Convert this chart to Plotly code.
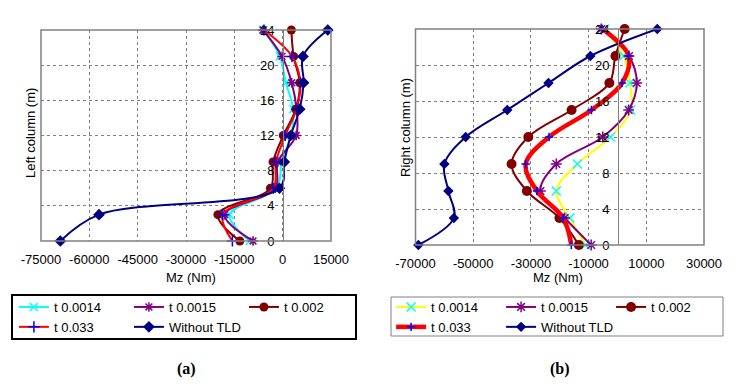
import plotly.graph_objects as go

# ---------------- data ----------------
heights = [0, 3, 6, 9, 12, 15, 18, 21, 24]
series_names = ["t 0.0014", "t 0.0015", "t 0.002", "t 0.033", "Without TLD"]

# (a) Left column
left_t00014 = [-10200, -16500, -1900, -300, 2600, 3300, 1000, -900, -6000]
left_t00015 = [-9200, -18000, -2300, -1500, 4200, 4300, 2800, -200, -6100]
left_t0002 = [-13300, -20100, -3800, -3000, 200, 4100, 5300, 3400, 2700]
left_t0033 = [-15600, -18600, -2900, -2100, 800, 4300, 5500, 2900, -5800]
left_without = [-69000, -57000, -1000, 500, 2500, 5300, 6500, 6300, 14000]

# (b) Right column
right_t00014 = [-11100, -16500, -21200, -13900, -2400, 4600, 4300, 2100, -4500]
right_t00015 = [-9100, -18300, -26700, -21200, -5100, 3900, 6700, 4000, -5600]
right_t0002 = [-13400, -20100, -31400, -36700, -30900, -15900, -2800, -700, 2500]
right_t0033 = [-16000, -18800, -27900, -31800, -23700, -9000, 1600, 3900, -5200]
right_without = [-69000, -56700, -58600, -60000, -52600, -38200, -23900, -9400, 13800]

left_xticks = [-75000, -60000, -45000, -30000, -15000, 0, 15000]
left_xlabels = ["-75000", "-60000", "-45000", "-30000", "-15000", "0", "15000"]
right_xticks = [-70000, -50000, -30000, -10000, 10000, 30000]
right_xlabels = ["-70000", "-50000", "-30000", "-10000", "10000", "30000"]
yticks = [0, 4, 8, 12, 16, 20, 24]
ylabels = ["0", "4", "8", "12", "16", "20", "24"]

# ---------------- geometry helpers ----------------
OFF = 8                      # default page margin of the html body
W, H = 734, 370
ML, MR = 6, 21
PW = W - ML - MR


def fx(px):
    return (px - OFF - ML) / PW


def fy(py):
    return 1 - (py - OFF) / H


FONT = "Liberation Sans, Arial, sans-serif"
GRAY = "#808080"

fig = go.Figure()

left_styles = [
    dict(line=dict(color="#00FFFF", width=2),
         marker=dict(symbol="x-thin", size=8, line=dict(color="#00FFFF", width=1.5))),
    dict(line=dict(color="#800080", width=2),
         marker=dict(symbol="asterisk", size=8, line=dict(color="#800080", width=1.5))),
    dict(line=dict(color="#800000", width=2),
         marker=dict(symbol="circle", size=9, color="#800000")),
    dict(line=dict(color="#FF0000", width=2),
         marker=dict(symbol="cross-thin", size=8, line=dict(color="#0000FF", width=1.5))),
    dict(line=dict(color="#000080", width=2),
         marker=dict(symbol="diamond", size=9, color="#000080")),
]
right_styles = [
    dict(line=dict(color="#FFFF00", width=2),
         marker=dict(symbol="x-thin", size=9, line=dict(color="#00FFFF", width=1.5))),
    dict(line=dict(color="#800080", width=2),
         marker=dict(symbol="asterisk", size=9, line=dict(color="#800080", width=1.5))),
    dict(line=dict(color="#800000", width=2),
         marker=dict(symbol="circle", size=10, color="#800000")),
    dict(line=dict(color="#FF0000", width=4.5),
         marker=dict(symbol="cross-thin", size=6, line=dict(color="#0000FF", width=1.5))),
    dict(line=dict(color="#000080", width=2),
         marker=dict(symbol="diamond", size=8, color="#000080")),
]

left_data = [left_t00014, left_t00015, left_t0002, left_t0033, left_without]
right_data = [right_t00014, right_t00015, right_t0002, right_t0033, right_without]

for name, vals, st in zip(series_names, left_data, left_styles):
    fig.add_trace(go.Scatter(
        x=vals, y=heights, name=name, mode="lines+markers",
        line=dict(shape="spline", **st["line"]), marker=st["marker"],
        xaxis="x", yaxis="y", legend="legend", cliponaxis=False))

for name, vals, st in zip(series_names, right_data, right_styles):
    fig.add_trace(go.Scatter(
        x=vals, y=heights, name=name, mode="lines+markers",
        line=dict(shape="spline", **st["line"]), marker=st["marker"],
        xaxis="x2", yaxis="y2", legend="legend2", cliponaxis=False))

axis_common = dict(
    showgrid=True, gridcolor=GRAY, griddash="dot", gridwidth=1,
    zeroline=False, ticks="outside", tickcolor="rgba(0,0,0,0)", ticklen=6,
    tickfont=dict(family=FONT, size=13, color="black"),
)

fig.update_layout(
    width=W, height=H,
    margin=dict(l=ML, r=MR, t=0, b=0, autoexpand=False),
    paper_bgcolor="white", plot_bgcolor="white",
    font=dict(family=FONT, size=13, color="black"),
    xaxis=dict(domain=[fx(41), fx(331)], range=[-75000, 15000],
               tickvals=left_xticks, ticktext=left_xlabels, anchor="y",
               showline=False, **axis_common),
    yaxis=dict(domain=[fy(241), fy(30)], range=[0, 24], tickvals=yticks, ticktext=ylabels,
               anchor="free", position=fx(283), showline=True, linecolor=GRAY,
               linewidth=1, **axis_common),
    xaxis2=dict(domain=[fx(415.5), fx(704)], range=[-70000, 30000],
                tickvals=right_xticks, ticktext=right_xlabels, anchor="y2",
                showline=False, **axis_common),
    yaxis2=dict(domain=[fy(245), fy(29)], range=[0, 24], tickvals=yticks, ticktext=ylabels,
                anchor="free", position=fx(618), showline=True, linecolor=GRAY,
                linewidth=1, **axis_common),
    legend=dict(orientation="h", x=-0.0001, xanchor="left", y=fy(292), yanchor="top",
                entrywidth=70, entrywidthmode="pixels", borderwidth=0,
                bgcolor="rgba(0,0,0,0)", font=dict(family=FONT, size=13, color="black")),
    legend2=dict(orientation="h", x=1.0001, xanchor="right", y=fy(292), yanchor="top",
                 entrywidth=65, entrywidthmode="pixels", borderwidth=0,
                 bgcolor="rgba(0,0,0,0)", font=dict(family=FONT, size=13, color="black")),
)

# plot frames
fig.add_shape(type="rect", xref="x domain", yref="y domain", x0=0, x1=1, y0=0, y1=1,
              line=dict(color=GRAY, width=1.5), layer="above")
fig.add_shape(type="rect", xref="x2 domain", yref="y2 domain", x0=0, x1=1, y0=0, y1=1,
              line=dict(color=GRAY, width=1.5), layer="above")
# legend boxes
fig.add_shape(type="rect", xref="paper", yref="paper", x0=fx(12), x1=fx(356),
              y0=fy(339), y1=fy(295), line=dict(color="black", width=2))
fig.add_shape(type="rect", xref="paper", yref="paper", x0=fx(391), x1=fx(723),
              y0=fy(336), y1=fy(297), line=dict(color=GRAY, width=1))

ann = [
    dict(text="Mz (Nm)", x=fx(191), y=fy(277)),
    dict(text="Mz (Nm)", x=fx(558), y=fy(277)),
    dict(text="Left column (m)", x=fx(30), y=fy(133), textangle=-90),
    dict(text="Right column (m)", x=fx(405), y=fy(128), textangle=-90),
]
for a in ann:
    fig.add_annotation(xref="paper", yref="paper", showarrow=False,
                       xanchor="center", yanchor="middle",
                       font=dict(family=FONT, size=13, color="black"), **a)
for txt, px in [("(a)", 186), ("(b)", 560)]:
    fig.add_annotation(xref="paper", yref="paper", showarrow=False,
                       x=fx(px), y=fy(369), xanchor="center", yanchor="middle",
                       text="<b>" + txt + "</b>",
                       font=dict(family="Liberation Serif, Times New Roman, serif",
                                 size=16, color="black"))

fig.write_html("out.html")
